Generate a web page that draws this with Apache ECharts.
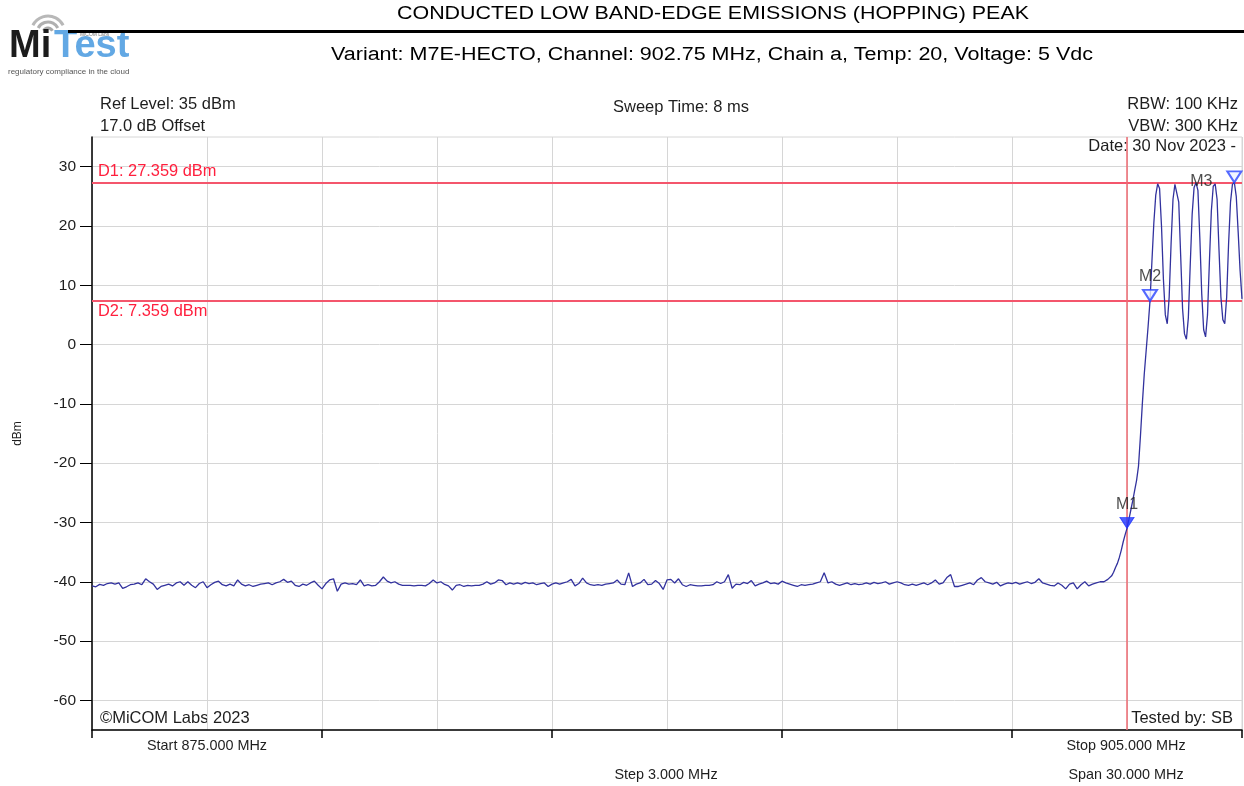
<!DOCTYPE html>
<html>
<head>
<meta charset="utf-8">
<script src="https://cdn.jsdelivr.net/npm/echarts@6/dist/echarts.min.js"></script>
<style>
  html, body { margin: 0; padding: 0; background: #ffffff; }
  #chart { width: 1244px; height: 786px; }
</style>
</head>
<body>
<div id="chart"></div>
<script>
// ---- Sweep data (frequency in MHz, level in dBm) ----
// Noise floor below the band edge, sampled every 0.1 MHz from 875.0 MHz
const noiseStartMHz = 875.0;
const noiseStepMHz = 0.1;
const noiseLevels = [
  -40.7, -40.85, -40.45, -40.6, -40.3, -40.2, -40.4, -40.2, -41.1, -40.85,
  -40.5, -40.4, -40.2, -40.5, -39.5, -40.0, -40.4, -41.3, -40.8, -40.6,
  -40.4, -40.7, -40.2, -40.0, -40.6, -40.0, -40.6, -41.0, -40.3, -40.0,
  -41.0, -40.5, -40.1, -39.9, -40.5, -40.7, -40.4, -40.7, -39.7, -40.4,
  -40.7, -40.5, -40.8, -40.6, -40.4, -40.3, -40.2, -40.5, -40.2, -40.0,
  -39.6, -40.1, -39.9, -40.6, -40.8, -40.4, -40.6, -40.2, -39.9, -40.6,
  -41.2, -40.3, -39.7, -39.5, -41.6, -40.4, -40.2, -40.4, -40.3, -40.5,
  -39.7, -40.7, -40.5, -40.7, -40.6, -40.0, -39.2, -39.9, -40.2, -40.0,
  -40.4, -40.6, -40.6, -40.6, -40.7, -40.6, -40.6, -40.7, -40.3, -39.7,
  -40.2, -40.0, -40.45, -40.7, -41.4, -40.6, -40.5, -40.8, -40.6, -40.7,
  -40.6, -40.6, -40.4, -40.0, -40.4, -40.2, -39.7, -39.8, -40.5, -40.2,
  -40.4, -40.2, -40.4, -40.1, -40.3, -40.2, -40.5, -40.3, -40.2, -40.8,
  -40.4, -40.2, -40.4, -40.2, -40.0, -39.6, -40.7, -40.3, -39.4, -40.2,
  -40.5, -40.6, -40.5, -40.6, -40.4, -40.3, -40.2, -39.7, -40.4, -40.5,
  -38.5, -40.8, -40.4, -40.2, -39.6, -40.5, -40.4, -39.8, -40.3, -41.3,
  -39.7, -39.6, -40.2, -39.5, -40.5, -40.8, -40.5, -40.6, -40.7, -40.7,
  -40.6, -40.6, -40.5, -40.0, -40.3, -40.0, -38.8, -41.1, -40.4, -40.5,
  -40.1, -40.3, -39.8, -40.7, -40.4, -40.2, -39.9, -40.3, -40.2, -40.4,
  -39.9, -40.2, -40.4, -40.6, -40.8, -40.5, -40.6, -40.5, -40.4, -40.2,
  -40.0, -38.5, -40.2, -40.0, -40.4, -40.6, -40.4, -40.2, -40.5, -40.3,
  -40.5, -40.4, -40.2, -40.4, -40.1, -40.3, -40.2, -40.0, -40.4, -40.2,
  -40.0, -40.2, -40.5, -40.6, -40.4, -40.6, -40.4, -40.2, -40.5, -40.2,
  -39.7, -40.4, -40.2, -39.3, -38.8, -40.8, -40.8, -40.6, -40.4, -40.2,
  -40.5, -39.7, -39.3, -40.0, -40.2, -40.4, -40.1, -40.7, -40.4, -40.2,
  -40.3, -40.1, -40.4, -40.2, -40.0, -40.3, -40.1, -39.5, -40.2, -40.4,
  -40.6, -40.7, -40.2, -40.6, -41.2, -40.4, -40.2, -41.2, -40.5, -40.0,
  -40.7, -40.4, -40.2, -40.0, -40.0
];

// Band edge rise and hopping channels (finer sampling)
const edgeFreqs = [
  901.5, 901.55, 901.6, 901.65, 901.7, 901.75, 901.8, 901.85, 901.9, 901.95,
  902.0, 902.05, 902.1, 902.15, 902.2, 902.25, 902.3, 902.35, 902.4, 902.45,
  902.5, 902.55, 902.6, 902.65, 902.7, 902.75, 902.8, 902.85, 902.9, 902.95,
  903.0, 903.05, 903.1, 903.15, 903.2, 903.25, 903.3, 903.35, 903.4, 903.45,
  903.5, 903.55, 903.6, 903.65, 903.7, 903.75, 903.8, 903.85, 903.9, 903.95,
  904.0, 904.05, 904.1, 904.15, 904.2, 904.25, 904.3, 904.35, 904.4, 904.45,
  904.5, 904.55, 904.6, 904.65, 904.7, 904.75, 904.8, 904.85, 904.9, 904.95,
  905.0
];
const edgeLevels = [
  -39.6, -39.4, -39.0, -38.4, -37.6, -36.9, -35.9, -34.7, -33.3, -32.1,
  -31.0, -29.5, -27.9, -26.3, -24.6, -22.9, -20.5, -15.5, -10.0, -5.0,
  -1.0, 3.0, 7.359, 14.0, 20.5, 25.2, 27.1, 26.3, 20.0, 11.0,
  5.0, 3.5, 8.0, 17.0, 24.5, 27.0, 27.2, 24.0, 15.0, 6.0,
  1.8, 0.9, 4.5, 13.5, 22.0, 26.5, 27.3, 26.0, 18.0, 8.5,
  2.5, 1.3, 5.0, 14.0, 22.5, 26.7, 27.1, 24.5, 16.0, 8.0,
  4.2, 3.5, 8.0, 17.0, 24.0, 27.0, 27.359, 25.0, 19.0, 12.5,
  7.7
];

// Markers
const markerNames = ['M1', 'M2', 'M3'];
const markerFreqs = [902.0, 902.6, 904.8];
const markerLevels = [-31.0, 7.359, 27.359];

// Display lines and band edge
const displayLineNames = ['D1', 'D2'];
const displayLineLevels = [27.359, 7.359];
const bandEdgeMHz = 902.0;

// Axes
const freqStart = 875, freqStop = 905;
const levelMin = -65, levelMax = 35;
const levelTicks = [-60, -50, -40, -30, -20, -10, 0, 10, 20, 30];

// ---- Build the trace ----
const trace = [];
noiseLevels.forEach((v, i) => {
  trace.push([+(noiseStartMHz + i * noiseStepMHz).toFixed(2), v]);
});
edgeFreqs.forEach((f, i) => trace.push([f, edgeLevels[i]]));

const FONT = "'Liberation Sans', Arial, sans-serif";
const TXT = '#1e1e1e';
const RED = '#ff1f3d';
const GRID = '#d6d6d6';

const markerData = markerNames.map((n, i) => {
  const filled = i === 0;
  const item = {
    name: n,
    value: [markerFreqs[i], markerLevels[i]],
    itemStyle: filled
      ? { color: '#1f35ff', borderColor: '#1f35ff', borderWidth: 1 }
      : { color: '#eef3ff', borderColor: '#2a45ff', borderWidth: 2 },
    label: { show: true, formatter: n, position: 'top', distance: 4 }
  };
  if (n === 'M3') {
    item.label = { show: true, formatter: n, position: 'inside', offset: [-33, 5] };
  }
  return item;
});

const chart = echarts.init(document.getElementById('chart'), null, { renderer: 'canvas' });

const txt = (x, y, text, opt, extra) => Object.assign({
  type: 'text', x: x, y: y, silent: true,
  style: Object.assign({ text: text, font: '16.5px ' + FONT, fill: TXT, textAlign: 'left', textVerticalAlign: 'middle' }, opt || {})
}, extra || {});

chart.setOption({
  animation: false,
  backgroundColor: '#ffffff',
  grid: { left: 92, right: 2, top: 137, bottom: 56, show: true, borderColor: GRID, borderWidth: 1, backgroundColor: 'transparent' },
  xAxis: [
    {
      type: 'value', min: freqStart, max: freqStop, interval: 3,
      axisLine: { show: false }, axisTick: { show: false }, axisLabel: { show: false },
      splitLine: { show: true, lineStyle: { color: GRID, width: 1 } }
    },
    {
      type: 'value', min: freqStart, max: freqStop, interval: 6, position: 'bottom', offset: 0,
      axisLine: { show: true, onZero: false, lineStyle: { color: '#000', width: 1.5 } },
      axisTick: { show: true, inside: false, length: 8, lineStyle: { color: '#000', width: 1.5 } },
      axisLabel: { show: false }, splitLine: { show: false }
    }
  ],
  yAxis: {
    type: 'value', min: levelMin, max: levelMax,
    name: 'dBm', nameLocation: 'middle', nameGap: 68, nameRotate: 90,
    nameTextStyle: { fontFamily: FONT, fontSize: 12, color: TXT },
    axisLine: { show: true, onZero: false, lineStyle: { color: '#000', width: 1.5 } },
    axisTick: { show: true, length: 12, customValues: levelTicks, lineStyle: { color: '#000', width: 1 } },
    axisLabel: { show: true, customValues: levelTicks, margin: 16, fontFamily: FONT, fontSize: 15.5, color: TXT },
    splitLine: { show: true, lineStyle: { color: GRID, width: 1 } }
  },
  series: [
    {
      type: 'line', xAxisIndex: 0, data: trace, showSymbol: false, smooth: false,
      lineStyle: { color: '#32329e', width: 1.3 }, z: 5,
      markLine: {
        silent: true, symbol: ['none', 'none'], animation: false,
        data: [
          {
            yAxis: displayLineLevels[0],
            lineStyle: { color: '#f4566c', width: 2, type: 'solid' },
            label: { show: true, position: 'insideStartTop', formatter: displayLineNames[0] + ': ' + displayLineLevels[0].toFixed(3) + ' dBm',
                     color: RED, fontFamily: FONT, fontSize: 16.4, distance: [6, 3] }
          },
          {
            yAxis: displayLineLevels[1],
            lineStyle: { color: '#f4566c', width: 2, type: 'solid' },
            label: { show: true, position: 'insideStartBottom', formatter: displayLineNames[1] + ': ' + displayLineLevels[1].toFixed(3) + ' dBm',
                     color: RED, fontFamily: FONT, fontSize: 16.4, distance: [6, 3] }
          },
          {
            xAxis: bandEdgeMHz,
            lineStyle: { color: '#ee6a72', width: 1.5, type: 'solid' },
            label: { show: false }
          }
        ]
      }
    },
    {
      type: 'scatter', xAxisIndex: 0, data: markerData, z: 10,
      symbol: 'triangle', symbolRotate: 180, symbolSize: [14, 11], symbolOffset: [0, '-50%'],
      label: { fontFamily: FONT, fontSize: 16, color: '#222' }
    }
  ],
  graphic: [
    // Logo
    { type: 'arc', silent: true, shape: { cx: 48, cy: 33, r: 5, startAngle: Math.PI * 1.15, endAngle: Math.PI * 1.85 }, style: { stroke: '#a8a8a8', lineWidth: 3, fill: null } },
    { type: 'arc', silent: true, shape: { cx: 48, cy: 33, r: 11, startAngle: Math.PI * 1.15, endAngle: Math.PI * 1.85 }, style: { stroke: '#b0b0b0', lineWidth: 3, fill: null } },
    { type: 'arc', silent: true, shape: { cx: 48, cy: 33, r: 17, startAngle: Math.PI * 1.15, endAngle: Math.PI * 1.85 }, style: { stroke: '#b8b8b8', lineWidth: 3, fill: null } },
    txt(9, 47, 'Mi', { font: 'bold 38px ' + FONT, fill: '#1c1c1c' }),
    txt(54, 47, 'Test', { font: 'bold 38px ' + FONT, fill: '#62a8e4' }),
    txt(80, 35, 'MiCOM Labs', { font: '5px ' + FONT, fill: '#777' }),
    txt(8, 72, 'regulatory compliance in the cloud', { font: '8px ' + FONT, fill: '#555' }),
    // Header rule
    { type: 'rect', silent: true, shape: { x: 68, y: 30, width: 1176, height: 3 }, style: { fill: '#000' } },
    // Titles
    txt(713, 14, 'CONDUCTED LOW BAND-EDGE EMISSIONS (HOPPING) PEAK', { font: '18px ' + FONT, textAlign: 'center', fill: '#000' }, { scaleX: 1.19 }),
    txt(712, 55, 'Variant: M7E-HECTO, Channel: 902.75 MHz, Chain a, Temp: 20, Voltage: 5 Vdc', { font: '18px ' + FONT, textAlign: 'center', fill: '#000' }, { scaleX: 1.195 }),
    // Sweep settings
    txt(100, 104, 'Ref Level: 35 dBm'),
    txt(100, 126, '17.0 dB Offset'),
    txt(681, 107, 'Sweep Time: 8 ms', { textAlign: 'center' }),
    txt(1238, 104, 'RBW: 100 KHz', { textAlign: 'right' }),
    txt(1238, 126, 'VBW: 300 KHz', { textAlign: 'right' }),
    txt(1236, 146, 'Date: 30 Nov 2023 -', { textAlign: 'right' }),
    // Footer texts inside plot
    txt(100, 718, '\u00A9MiCOM Labs 2023'),
    txt(1233, 718, 'Tested by: SB', { textAlign: 'right' }),
    // Frequency annotations
    txt(207, 746, 'Start 875.000 MHz', { font: '14.4px ' + FONT, textAlign: 'center' }),
    txt(1126, 746, 'Stop 905.000 MHz', { font: '14.4px ' + FONT, textAlign: 'center' }),
    txt(666, 775, 'Step 3.000 MHz', { font: '14.4px ' + FONT, textAlign: 'center' }),
    txt(1126, 775, 'Span 30.000 MHz', { font: '14.4px ' + FONT, textAlign: 'center' })
  ]
});
</script>
</body>
</html>
